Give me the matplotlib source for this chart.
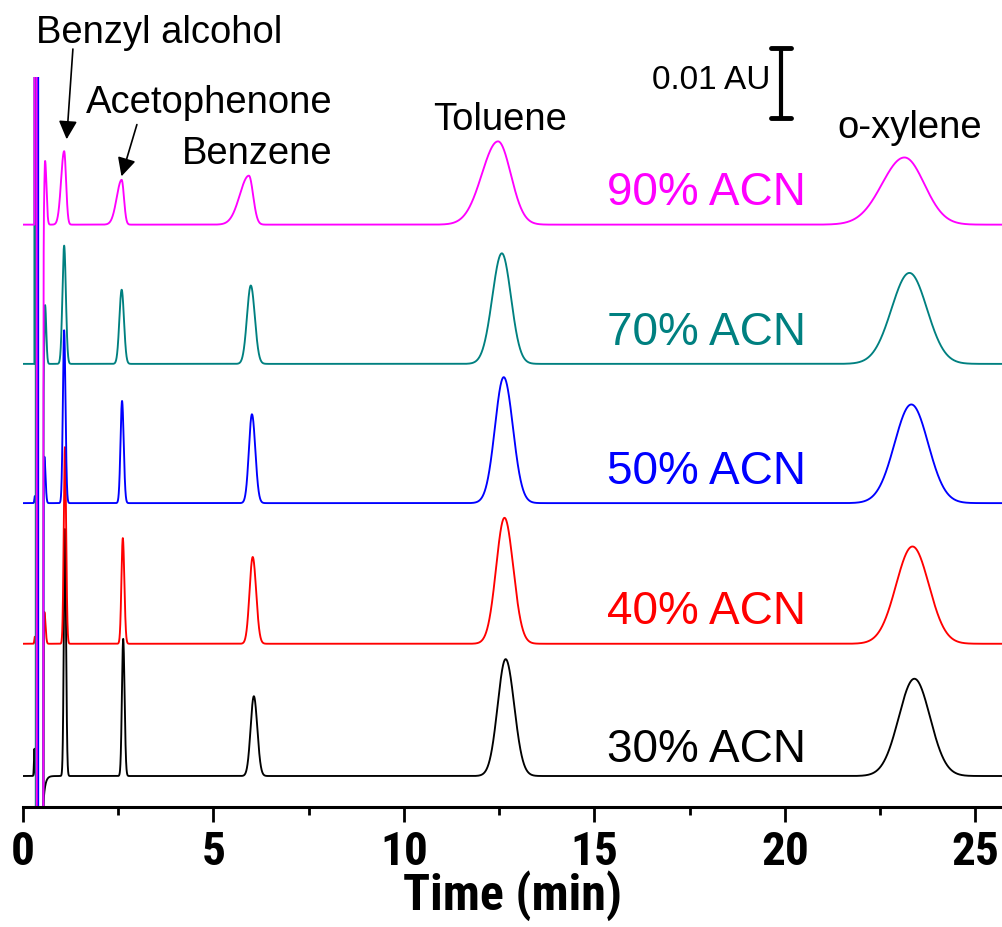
import numpy as np
import matplotlib
matplotlib.use("Agg")
import matplotlib.pyplot as plt
from matplotlib import font_manager
from matplotlib.font_manager import FontProperties
from matplotlib.ticker import MultipleLocator

# ---- chromatographic data (times in min, heights in mAU, widths in min) ----
trace_labels = ["30% ACN", "40% ACN", "50% ACN", "70% ACN", "90% ACN"]
trace_colors = ["#000000", "#FF0000", "#0000FF", "#008080", "#FF00FF"]
trace_offsets_au = [0.0, 0.0189, 0.0390, 0.0589, 0.0788]

peak_names = ["t0", "Benzyl alcohol", "Acetophenone", "Benzene", "Toluene", "o-xylene"]

rt_30 = [0.56, 1.10, 2.63, 6.06, 12.67, 23.40]
rt_40 = [0.56, 1.10, 2.62, 6.03, 12.64, 23.35]
rt_50 = [0.56, 1.08, 2.60, 6.01, 12.62, 23.32]
rt_70 = [0.58, 1.08, 2.59, 5.98, 12.57, 23.27]
rt_90 = [0.58, 1.08, 2.59, 5.93, 12.47, 23.14]

height_30 = [0.0, 35.3, 19.6, 11.4, 16.7, 13.9]
height_40 = [4.6, 28.1, 15.1, 12.4, 18.0, 13.9]
height_50 = [6.7, 24.7, 14.6, 12.7, 18.0, 14.1]
height_70 = [8.4, 16.9, 10.6, 11.2, 15.8, 13.0]
height_90 = [9.1, 10.5, 6.4, 7.0, 11.9, 9.6]

front_30 = [0.015, 0.028, 0.033, 0.085, 0.21, 0.41]
front_40 = [0.015, 0.030, 0.036, 0.083, 0.22, 0.43]
front_50 = [0.015, 0.033, 0.040, 0.080, 0.23, 0.44]
front_70 = [0.015, 0.045, 0.060, 0.100, 0.25, 0.47]
front_90 = [0.020, 0.080, 0.130, 0.240, 0.425, 0.59]

tail_30 = [0.030, 0.030, 0.036, 0.090, 0.225, 0.41]
tail_40 = [0.030, 0.032, 0.040, 0.090, 0.230, 0.43]
tail_50 = [0.030, 0.035, 0.043, 0.088, 0.240, 0.44]
tail_70 = [0.030, 0.045, 0.060, 0.105, 0.240, 0.46]
tail_90 = [0.035, 0.050, 0.060, 0.110, 0.335, 0.52]

# injection disturbance near the void time
bump_time = [0.30, 0.31, 0.31, 0.30, 0.30]
bump_mau = [3.9, 1.0, 1.0, 0.0, 0.0]
void_rise = [0.36, 0.355, 0.38, 0.30, 0.30]
void_fall = [0.36, 0.365, 0.40, 0.335, 0.36]
void_end = [0.44, 0.525, 0.525, 0.525, 0.525]
void_tau = [0.047, 0.004, 0.004, 0.004, 0.004]
void_high_mau = [0.0, 500.0, 500.0, 500.0, 500.0]
void_depth_mau = [30.0, 500.0, 500.0, 500.0, 500.0]

retention = [rt_30, rt_40, rt_50, rt_70, rt_90]
heights = [height_30, height_40, height_50, height_70, height_90]
fronts = [front_30, front_40, front_50, front_70, front_90]
tails = [tail_30, tail_40, tail_50, tail_70, tail_90]

scale_bar_au = 0.01
x_ticks = [0, 5, 10, 15, 20, 25]


def pick(*names):
    avail = {f.name for f in font_manager.fontManager.ttflist}
    for n in names:
        if n in avail:
            return n
    return "DejaVu Sans"


def narrow_bold():
    """Find a condensed bold face for the axis text."""
    files = [f.fname for f in font_manager.fontManager.ttflist]
    patterns = [
        ("liberationsansnarrow-bold.",),
        ("arialnb",),
        ("robotocondensed-bold.",),
        ("roboto", "condensed", "bold"),
        ("notosans-condensedbold.",),
        ("opensans", "condensed", "bold"),
        ("dejavusanscondensed-bold.",),
    ]
    for pat in patterns:
        for fn in files:
            low = fn.lower().replace(" ", "").replace("_", "")
            if all(p in low for p in pat) and "italic" not in low and "oblique" not in low:
                return FontProperties(fname=fn)
    return FontProperties(family=pick("Liberation Sans", "DejaVu Sans"), weight="bold")


label_font = pick("Liberation Sans", "Arial", "DejaVu Sans")
axis_fp = narrow_bold()

t = np.arange(0.0, 25.72, 0.001)


def chromatogram(i):
    y = np.zeros_like(t)
    for rt, h, sf, st in zip(retention[i], heights[i], fronts[i], tails[i]):
        s = np.where(t < rt, sf, st)
        y += h * np.exp(-0.5 * ((t - rt) / s) ** 2)
    y += bump_mau[i] * np.exp(-0.5 * ((t - bump_time[i]) / 0.012) ** 2)
    hi = (t >= void_rise[i]) & (t < void_fall[i])
    y[hi] += void_high_mau[i]
    lo = (t >= void_fall[i]) & (t < void_end[i])
    y[lo] -= void_depth_mau[i]
    rec = t >= void_end[i]
    y[rec] -= void_depth_mau[i] * np.exp(-(t[rec] - void_end[i]) / void_tau[i])
    return y / 1000.0  # mAU -> AU


fig = plt.figure(figsize=(10.02, 9.28), dpi=100)
ax = fig.add_axes([23 / 1002, 120 / 928, 979 / 1002, 730 / 928])

for i in range(len(trace_labels)):
    ax.plot(t, chromatogram(i) + trace_offsets_au[i], color=trace_colors[i], lw=1.35)

ax.set_xlim(0, 25.7)
ax.set_ylim(-0.00443, 0.0999)

for s in ["top", "right", "left"]:
    ax.spines[s].set_visible(False)
ax.spines["bottom"].set_linewidth(2.2)
ax.set_yticks([])
ax.set_xticks(x_ticks)
ax.xaxis.set_minor_locator(MultipleLocator(2.5))
ax.tick_params(axis="x", which="major", direction="out", length=11, width=2.0, pad=5)
ax.tick_params(axis="x", which="minor", direction="out", length=6, width=2.0)
tick_fp = axis_fp.copy()
tick_fp.set_size(34)
tick_fp.set_weight("bold")
for lab in ax.get_xticklabels():
    lab.set_fontproperties(tick_fp)
xlabel_fp = axis_fp.copy()
xlabel_fp.set_size(36)
xlabel_fp.set_weight("bold")
ax.set_xlabel("Time (min)", fontproperties=xlabel_fp, labelpad=-3)

# trace labels
label_y = [0.00386, 0.0236, 0.0436, 0.0634, 0.0834]
for i, name in enumerate(trace_labels):
    ax.text(17.93, label_y[i], name, color=trace_colors[i], fontsize=33,
            fontfamily=label_font, ha="center", va="center")

# compound labels
txt = dict(fontsize=27.5, fontfamily=label_font, ha="center", va="center", color="black")
arrow = dict(arrowstyle="-|>", color="black", lw=1.2, mutation_scale=28, shrinkA=0, shrinkB=0)
ax.text(3.57, 0.1064, "Benzyl alcohol", clip_on=False, **txt)
ax.annotate("", xy=(1.146, 0.0910), xytext=(1.31, 0.1039), arrowprops=arrow, annotation_clip=False)
ax.text(4.88, 0.0963, "Acetophenone", **txt)
ax.annotate("", xy=(2.585, 0.0857), xytext=(2.99, 0.0931), arrowprops=arrow, annotation_clip=False)
ax.text(6.14, 0.0891, "Benzene", **txt)
ax.text(12.52, 0.0939, "Toluene", **txt)
ax.text(23.28, 0.0927, "o-xylene", **txt)

# 0.01 AU scale bar
bx, btop = 19.9, 0.104
ax.plot([bx, bx], [btop - scale_bar_au, btop], color="black", lw=3, clip_on=False,
        solid_capstyle="butt")
for yy in (btop - scale_bar_au, btop):
    ax.plot([bx - 0.27, bx + 0.27], [yy, yy], color="black", lw=3.5, clip_on=False,
            solid_capstyle="round")
ax.text(19.62, 0.0996, "0.01 AU", fontsize=24, fontfamily=label_font, ha="right",
        va="center", clip_on=False)

fig.savefig("out.png", dpi=100)
